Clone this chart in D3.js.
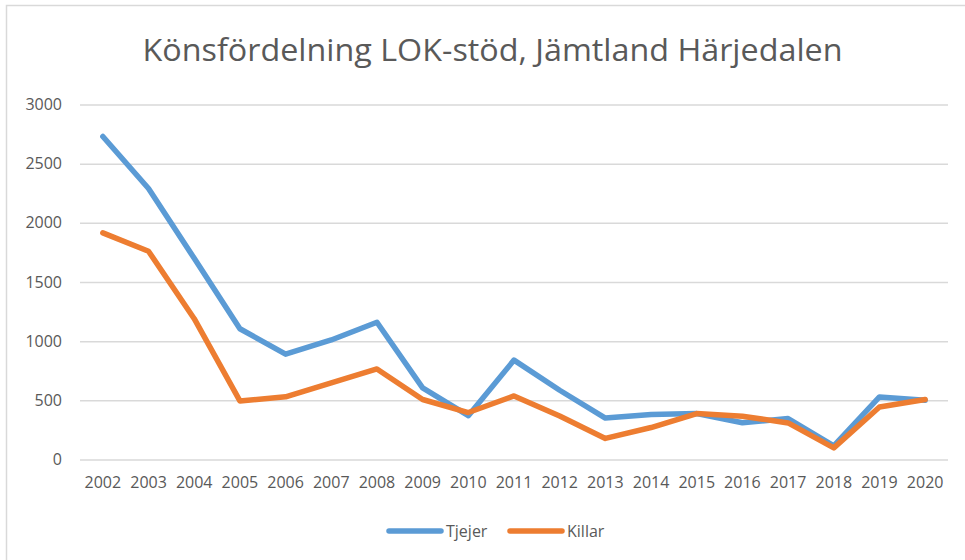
<!DOCTYPE html>
<html>
<head>
<meta charset="utf-8">
<script src="https://cdn.jsdelivr.net/npm/d3@7"></script>
<style>
  html, body { margin: 0; padding: 0; background: #fff; }
  svg { display: block; }
</style>
</head>
<body>
<script>
const years = ["2002","2003","2004","2005","2006","2007","2008","2009","2010","2011","2012","2013","2014","2015","2016","2017","2018","2019","2020"];
const tjejer = [2730, 2290, 1700, 1105, 890, 1010, 1160, 605, 370, 840, 585, 350, 380, 388, 310, 346, 115, 529, 500];
const killar = [1915, 1760, 1190, 495, 530, 647, 765, 507, 397, 537, 368, 178, 270, 388, 366, 309, 98, 444, 507];
const yTicks = [0, 500, 1000, 1500, 2000, 2500, 3000];
const seriesNames = ["Tjejer", "Killar"];
const seriesColors = ["#5B9BD5", "#ED7D31"];
const title = "Könsfördelning LOK-stöd, Jämtland Härjedalen";

const W = 965, H = 560;
const svg = d3.select("body").append("svg").attr("width", W).attr("height", H);

// chart border (only left/top visible)
svg.append("rect").attr("x", 6.5).attr("y", 5.5).attr("width", 1000).attr("height", 1000)
  .attr("fill", "#fff").attr("stroke", "#d9d9d9").attr("stroke-width", 1.5);

const font = "'Open Sans', sans-serif";

svg.append("text").attr("x", 492.5).attr("y", 61).attr("text-anchor", "middle")
  .attr("font-family", font).attr("font-weight", 400).attr("font-size", 31)
  .attr("fill", "#595959").attr("textLength", 700).attr("lengthAdjust", "spacingAndGlyphs")
  .text(title);

const x = d3.scaleBand().domain(years).range([80, 948]);
const y = d3.scaleLinear().domain([0, 3000]).range([459.5, 104.5]);

// gridlines
const yAxis = d3.axisLeft(y).tickValues(yTicks).tickSize(-(948 - 80)).tickPadding(18).tickFormat(d3.format("d"));
const gy = svg.append("g").attr("transform", "translate(80,0)").call(yAxis);
gy.select(".domain").remove();
gy.selectAll(".tick line").attr("stroke", "#d9d9d9").attr("stroke-width", 1.5);
gy.selectAll(".tick text").attr("font-family", font).attr("font-size", 16).attr("fill", "#595959");

const xAxis = d3.axisBottom(x).tickSize(0).tickPadding(17);
const gx = svg.append("g").attr("transform", "translate(0,459.5)").call(xAxis);
gx.select(".domain").remove();
gx.selectAll(".tick text").attr("font-family", font).attr("font-size", 16).attr("fill", "#595959");

const line = d3.line().x((d, i) => x(years[i]) + x.bandwidth() / 2).y(d => y(d));
[tjejer, killar].forEach((s, k) => {
  svg.append("path").datum(s).attr("d", line).attr("fill", "none")
    .attr("stroke", seriesColors[k]).attr("stroke-width", 5.5)
    .attr("stroke-linejoin", "round").attr("stroke-linecap", "round");
});

// legend
const legendPos = [387, 508];
seriesNames.forEach((n, k) => {
  const g = svg.append("g").attr("transform", `translate(${legendPos[k]},531)`);
  g.append("line").attr("x1", 2).attr("x2", 54).attr("y1", 0).attr("y2", 0)
    .attr("stroke", seriesColors[k]).attr("stroke-width", 5.5).attr("stroke-linecap", "round");
  g.append("text").attr("x", 59).attr("y", 5.5).attr("font-family", font).attr("font-size", 16)
    .attr("fill", "#595959").text(n);
});
</script>
</body>
</html>
